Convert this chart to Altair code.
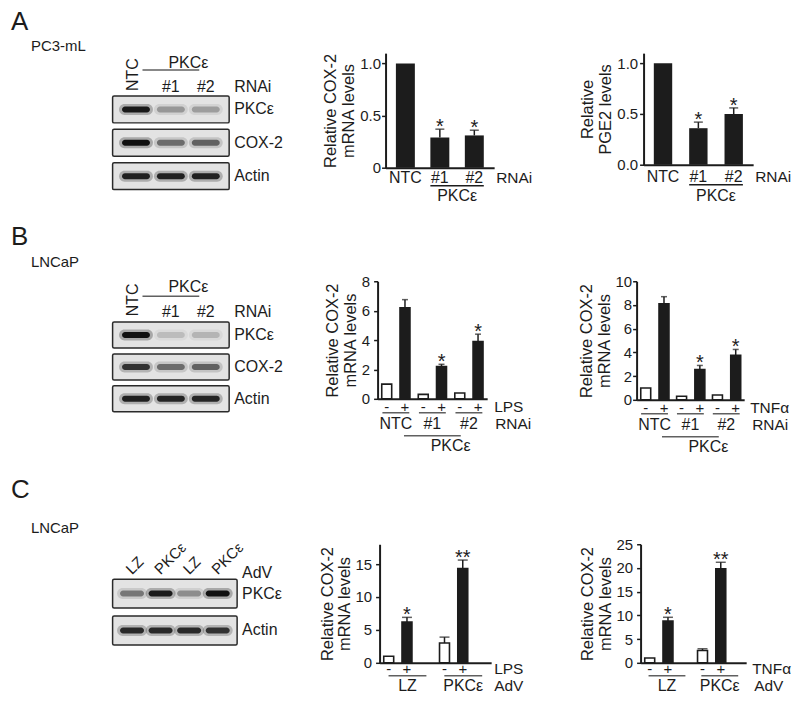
import altair as alt
import pandas as pd

FONT = "Liberation Sans"
INK = "#1c1c1c"

# ---------------- data ----------------
# Panel A  (PC3-mL, RNAi)
A_lanes = ["NTC", "#1", "#2"]
A_proteins = ["PKCε", "COX-2", "Actin"]
A_blot = [[0.95, 0.30, 0.28], [1.00, 0.50, 0.55], [0.90, 0.90, 0.90]]
A1_cats = ["NTC", "#1", "#2"]
A1_vals = [1.0, 0.29, 0.31]
A1_err = [0.0, 0.08, 0.05]
A1_sig = ["", "*", "*"]
A2_cats = ["NTC", "#1", "#2"]
A2_vals = [1.0, 0.36, 0.50]
A2_err = [0.0, 0.06, 0.06]
A2_sig = ["", "*", "*"]

# Panel B  (LNCaP, RNAi)
B_lanes = ["NTC", "#1", "#2"]
B_proteins = ["PKCε", "COX-2", "Actin"]
B_blot = [[1.00, 0.15, 0.18], [0.80, 0.50, 0.55], [0.90, 0.88, 0.88]]
B_groups = ["NTC", "#1", "#2"]
B_treat = ["-", "+"]
B1_vals = [1.0, 6.2, 0.3, 2.2, 0.4, 3.9]
B1_err = [0.0, 0.55, 0.0, 0.15, 0.0, 0.5]
B1_sig = ["", "", "", "*", "", "*"]
B2_vals = [1.0, 8.1, 0.3, 2.55, 0.4, 3.75]
B2_err = [0.0, 0.6, 0.0, 0.35, 0.0, 0.5]
B2_sig = ["", "", "", "*", "", "*"]

# Panel C  (LNCaP, adenovirus)
C_lanes = ["LZ", "PKCε", "LZ", "PKCε"]
C_proteins = ["PKCε", "Actin"]
C_blot = [[0.45, 0.95, 0.35, 1.00], [0.85, 0.85, 0.85, 0.80]]
C_groups = ["LZ", "PKCε"]
C_treat = ["-", "+"]
C1_vals = [1.0, 6.2, 3.0, 14.3]
C1_err = [0.0, 0.7, 0.9, 1.3]
C1_sig = ["", "*", "", "**"]
C2_vals = [1.0, 8.8, 2.6, 19.8]
C2_err = [0.0, 0.8, 0.35, 1.4]
C2_sig = ["", "*", "", "**"]


# ---------------- helpers ----------------
def x_axis():
    return alt.Axis(labels=False, ticks=False, title=None, grid=False,
                    domainColor=INK, domainWidth=2)


def y_axis(title, ticks, lexpr, lpad, tpad):
    return alt.Axis(values=ticks, title=title, grid=False, labelExpr=lexpr,
                    domainColor=INK, domainWidth=2, tickColor=INK, tickWidth=1.5,
                    tickSize=4, labelFontSize=15, labelColor=INK, labelPadding=lpad,
                    titleFontSize=16.5, titleFontWeight="normal", titleColor=INK,
                    titlePadding=tpad, titleLineHeight=18)


def txt(s, **kw):
    return alt.Chart(pd.DataFrame({"t": [s]})).mark_text(color=INK, **kw)


def simple_bar(cats, vals, errs, sig, W, H, ymax, ticks, lexpr, title, lpad, tpad,
               pin, pout, cap, lab_dy, ul_dy, pk_dy, right_dx):
    df = pd.DataFrame({"cat": cats, "val": vals, "err": errs,
                       "top": [v + e for v, e in zip(vals, errs)], "sig": sig})
    xs = alt.Scale(domain=cats, paddingInner=pin, paddingOuter=pout)
    X = alt.X("cat:N", scale=xs, axis=x_axis())
    ys = alt.Scale(domain=[0, ymax], nice=False, zero=True)
    yax = y_axis(title, ticks, lexpr, lpad, tpad)
    bars = alt.Chart(df).mark_bar(fill=INK).encode(x=X, y=alt.Y("val:Q", scale=ys, axis=yax))
    ed = df[df.err > 0]
    eb = alt.Chart(ed).mark_rule(color=INK, strokeWidth=1.5).encode(
        x=X, y=alt.Y("val:Q", scale=ys, axis=yax), y2="top:Q")
    caps = alt.Chart(ed).mark_tick(orient="horizontal", size=cap, thickness=1.5, color=INK).encode(
        x=X, y=alt.Y("top:Q", scale=ys, axis=yax))
    stars = alt.Chart(df[df.sig != ""]).mark_text(fontSize=20, baseline="alphabetic", dy=4, color=INK).encode(
        x=X, y=alt.Y("top:Q", scale=ys, axis=yax), text="sig:N")
    labs = alt.Chart(df).mark_text(fontSize=16, baseline="middle", color=INK).encode(
        x=X, y=alt.value(H + lab_dy), text="cat:N")
    step = W / (len(cats) - pin + 2 * pout)
    gdf = pd.DataFrame({"a": [cats[1]], "b": [cats[2]], "t": ["PKCε"]})
    ul = alt.Chart(gdf).mark_rule(color=INK, strokeWidth=1.5).encode(
        x=alt.X("a:N", scale=xs, axis=x_axis(), bandPosition=0),
        x2=alt.X2("b", bandPosition=1), y=alt.value(H + ul_dy))
    pk = alt.Chart(gdf).mark_text(fontSize=16, baseline="middle", color=INK, dx=pin * step / 2).encode(
        x=alt.X("a:N", scale=xs, axis=x_axis(), bandPosition=1), y=alt.value(H + pk_dy), text="t:N")
    rn = txt("RNAi", fontSize=15.5, align="left", baseline="middle").encode(
        x=alt.value(W + right_dx), y=alt.value(H + lab_dy), text="t:N")
    return alt.layer(bars, eb, caps, stars, labs, ul, pk, rn).properties(width=W, height=H)


def grouped_bar(groups, treats, vals, errs, sig, W, H, ymax, ticks, title, lpad, tpad,
                p2, o2, cap, pm_dy, pair_dy, pair_len, grp_dy, stim, stim_dx, rowlab, row_dx,
                pk=None):
    rows = [(g, t) for g in groups for t in treats]
    df = pd.DataFrame({"grp": [r[0] for r in rows], "trt": [r[1] for r in rows],
                       "val": vals, "err": errs,
                       "top": [v + e for v, e in zip(vals, errs)], "sig": sig})
    gs = alt.Scale(domain=groups, paddingInner=0, paddingOuter=0)
    osc = alt.Scale(domain=treats, paddingInner=p2, paddingOuter=o2)
    X = alt.X("grp:N", scale=gs, axis=x_axis())
    XO = alt.XOffset("trt:N", scale=osc)
    ys = alt.Scale(domain=[0, ymax], nice=False, zero=True)
    yax = y_axis(title, ticks, "format(datum.value, 'd')", lpad, tpad)
    bars = alt.Chart(df).mark_bar(stroke=INK, strokeWidth=1.6).encode(
        x=X, xOffset=XO, y=alt.Y("val:Q", scale=ys, axis=yax),
        fill=alt.Fill("trt:N", scale=alt.Scale(domain=treats, range=["white", INK]), legend=None))
    ed = df[df.err > 0]
    eb = alt.Chart(ed).mark_rule(color=INK, strokeWidth=1.5).encode(
        x=X, xOffset=XO, y=alt.Y("val:Q", scale=ys, axis=yax), y2="top:Q")
    caps = alt.Chart(ed).mark_tick(orient="horizontal", size=cap, thickness=1.5, color=INK).encode(
        x=X, xOffset=XO, y=alt.Y("top:Q", scale=ys, axis=yax))
    stars = alt.Chart(df[df.sig != ""]).mark_text(fontSize=20, baseline="alphabetic", dy=4, color=INK).encode(
        x=X, xOffset=XO, y=alt.Y("top:Q", scale=ys, axis=yax), text="sig:N")
    pm = alt.Chart(df).mark_text(fontSize=15, baseline="middle", color=INK).encode(
        x=X, xOffset=XO, y=alt.value(H + pm_dy), text="trt:N")
    gdf = pd.DataFrame({"grp": groups})
    pair = alt.Chart(gdf).mark_tick(orient="horizontal", size=pair_len, thickness=1.5, color=INK).encode(
        x=X, y=alt.value(H + pair_dy))
    glab = alt.Chart(gdf).mark_text(fontSize=16, baseline="middle", color=INK).encode(
        x=X, y=alt.value(H + grp_dy), text="grp:N")
    st = txt(stim, fontSize=15.5, align="left", baseline="middle").encode(
        x=alt.value(W + stim_dx), y=alt.value(H + pm_dy), text="t:N")
    rl = txt(rowlab, fontSize=15.5, align="left", baseline="middle").encode(
        x=alt.value(W + row_dx), y=alt.value(H + grp_dy), text="t:N")
    layers = [bars, eb, caps, stars, pm, pair, glab, st, rl]
    if pk is not None:
        pdf = pd.DataFrame({"grp": [groups[1]], "t": ["PKCε"]})
        Xp = alt.X("grp:N", scale=gs, axis=x_axis(), bandPosition=1)
        layers.append(alt.Chart(pdf).mark_tick(orient="horizontal", size=pk["len"], thickness=1.5,
                                               color=INK).encode(x=Xp, y=alt.value(H + pk["ul"])))
        layers.append(alt.Chart(pdf).mark_text(fontSize=16, baseline="middle", color=INK).encode(
            x=Xp, y=alt.value(H + pk["dy"]), text="t:N"))
    return alt.layer(*layers).properties(width=W, height=H)


def blot_panel(letter, cell, lanes, proteins, blot, W, H, letter_y, cell_y, box_x, box_y,
               lane_po, prot_pi, band_len, band_th, lab_x, extra):
    keys = [f"{i}:{n}" for i, n in enumerate(lanes)]
    ls = alt.Scale(domain=keys, range=list(box_x), paddingInner=0, paddingOuter=lane_po)
    ps = alt.Scale(domain=proteins, range=list(box_y), paddingInner=prot_pi, paddingOuter=0)
    LX = alt.X("lane:N", scale=ls, axis=None)
    PY = alt.Y("protein:N", scale=ps, axis=None)
    rows = []
    for pi, p in enumerate(proteins):
        for li, k in enumerate(keys):
            rows.append({"protein": p, "lane": k, "i": blot[pi][li], "h": blot[pi][li] * 0.3})
    bd = pd.DataFrame(rows)
    pdf = pd.DataFrame({"protein": proteins})
    frames = alt.Chart(pdf).mark_rect(fill="#e3e3e3", stroke="#2a2a2a", strokeWidth=1.5,
                                      cornerRadius=1.5).encode(
        y=PY, x=alt.value(box_x[0]), x2=alt.value(box_x[1]))
    halo = alt.Chart(bd).mark_tick(orient="horizontal", size=band_len + 6, thickness=band_th + 5,
                                   cornerRadius=(band_th + 5) / 2, color="#222").encode(
        x=LX, y=PY, opacity=alt.Opacity("h:Q", scale=None))
    core = alt.Chart(bd).mark_tick(orient="horizontal", size=band_len, thickness=band_th,
                                   cornerRadius=band_th / 2, color="#111").encode(
        x=LX, y=PY, opacity=alt.Opacity("i:Q", scale=None))
    plabs = alt.Chart(pdf).mark_text(align="left", baseline="middle", fontSize=16, color=INK).encode(
        y=PY, x=alt.value(lab_x), text="protein:N")
    let = txt(letter, align="left", baseline="top", fontSize=26).encode(
        x=alt.value(0), y=alt.value(letter_y), text="t:N")
    cel = txt(cell, align="left", baseline="middle", fontSize=15).encode(
        x=alt.value(20), y=alt.value(cell_y), text="t:N")
    ldf = pd.DataFrame({"lane": keys, "name": lanes})
    layers = [frames, halo, core, plabs, let, cel] + extra(ldf, ls, LX)
    return alt.layer(*layers).properties(width=W, height=H)


def rnai_labels(ntc_y, num_y, pk_y, ul_y, rnai_x):
    def f(ldf, ls, LX):
        ntc = alt.Chart(ldf[ldf.name == "NTC"]).mark_text(angle=270, align="left", baseline="middle",
                                                          fontSize=16, dy=-3, color=INK).encode(
            x=LX, y=alt.value(ntc_y), text="name:N")
        nums = alt.Chart(ldf[ldf.name != "NTC"]).mark_text(baseline="middle", fontSize=16, color=INK).encode(
            x=LX, y=alt.value(num_y), text="name:N")
        hdf = pd.DataFrame({"lane": [ldf.lane.iloc[1]], "t": ["PKCε"]})
        Xh = alt.X("lane:N", scale=ls, axis=None, bandPosition=1)
        head = alt.Chart(hdf).mark_text(baseline="middle", fontSize=16, color=INK).encode(
            x=Xh, y=alt.value(pk_y), text="t:N")
        ul = alt.Chart(hdf).mark_tick(orient="horizontal", size=57, thickness=1.5, color=INK).encode(
            x=Xh, y=alt.value(ul_y))
        rn = txt("RNAi", align="left", baseline="middle", fontSize=16).encode(
            x=alt.value(rnai_x), y=alt.value(num_y), text="t:N")
        return [ntc, nums, head, ul, rn]
    return f


def adv_labels(lab_y, adv_x, adv_y):
    def f(ldf, ls, LX):
        rot = alt.Chart(ldf).mark_text(angle=315, align="left", baseline="alphabetic",
                                       fontSize=15, color=INK).encode(
            x=LX, y=alt.value(lab_y), text="name:N")
        adv = txt("AdV", align="left", baseline="middle", fontSize=16).encode(
            x=alt.value(adv_x), y=alt.value(adv_y), text="t:N")
        return [rot, adv]
    return f


def spacer(h):
    return alt.Chart(pd.DataFrame({"s": [0]})).mark_point(opacity=0).properties(width=1, height=h)


# ---------------- panels ----------------
blotA = blot_panel("A", "PC3-mL", A_lanes, A_proteins, A_blot, 226, 129, -44, -7,
                   (102, 219), (43, 137), 0.17, 0.194, 28, 6, 224,
                   rnai_labels(38, 34, 10, 17, 224))
A1 = simple_bar(A1_cats, A1_vals, A1_err, A1_sig, 109, 115, 1.1, [0, 0.5, 1.0],
                "datum.value == 0 ? '0' : format(datum.value, '.1f')",
                ["Relative COX-2", "mRNA levels"], 1, 3, 0.45, 0.3, 9, 10, 18, 28, 2)
A2 = simple_bar(A2_cats, A2_vals, A2_err, A2_sig, 110, 112, 1.1, [0, 0.5, 1.0],
                "format(datum.value, '.1f')",
                ["Relative", "PGE2 levels"], 2, 3, 0.48, 0.29, 9, 12, 20, 31, 2)

blotB = blot_panel("B", "LNCaP", B_lanes, B_proteins, B_blot, 218, 164, -57, -19,
                   (102, 219), (41, 131), 0.17, 0.1875, 28, 6, 224,
                   rnai_labels(35, 31, 6, 15, 224))
B1 = grouped_bar(B_groups, B_treat, B1_vals, B1_err, B1_sig, 110, 118, 8, [0, 2, 4, 6, 8],
                 ["Relative COX-2", "mRNA levels"], 4, 3, 0.455, 0.2275, 6, 8, 14, 27, 25,
                 "LPS", 7, "RNAi", 8, pk={"len": 57, "ul": 37, "dy": 47})
B2 = grouped_bar(B_groups, B_treat, B2_vals, B2_err, B2_sig, 108, 119, 10, [0, 2, 4, 6, 8, 10],
                 ["Relative COX-2", "mRNA levels"], 1, 3, 0.455, 0.2275, 6, 8, 14, 27, 25,
                 "TNFα", 6, "RNAi", 8, pk={"len": 57, "ul": 37, "dy": 47})

blotC = blot_panel("C", "LNCaP", C_lanes, C_proteins, C_blot, 220, 119, -67, -16,
                   (102, 227), (35, 101), 0.18, 0.216, 24, 6, 232,
                   adv_labels(31, 232, 29))
C1 = grouped_bar(C_groups, C_treat, C1_vals, C1_err, C1_sig, 112, 119, 18, [0, 5, 10, 15],
                 ["Relative COX-2", "mRNA levels"], 4, 2, 0.5, 0.25, 10, 6, 13, 38, 23,
                 "LPS", 3, "AdV", 3)
C2 = grouped_bar(C_groups, C_treat, C2_vals, C2_err, C2_sig, 106, 119, 25, [0, 5, 10, 15, 20, 25],
                 ["Relative COX-2", "mRNA levels"], 4, 3, 0.51, 0.255, 10, 6, 13, 37, 23,
                 "TNFα", 6, "AdV", 8)

rowA = alt.hconcat(blotA, A1, A2, spacing=150, bounds="flush")
rowB = alt.hconcat(blotB, B1, B2, spacing=150, bounds="flush")
rowC = alt.hconcat(blotC, C1, C2, spacing=150, bounds="flush")

chart = (alt.vconcat(rowA, spacer(229), rowB, spacer(264), rowC, spacing=0, bounds="flush")
         .properties(padding=0)
         .configure(font=FONT)
         .configure_view(stroke=None))

chart.save("out.html", embed_options={"renderer": "svg", "actions": False})
